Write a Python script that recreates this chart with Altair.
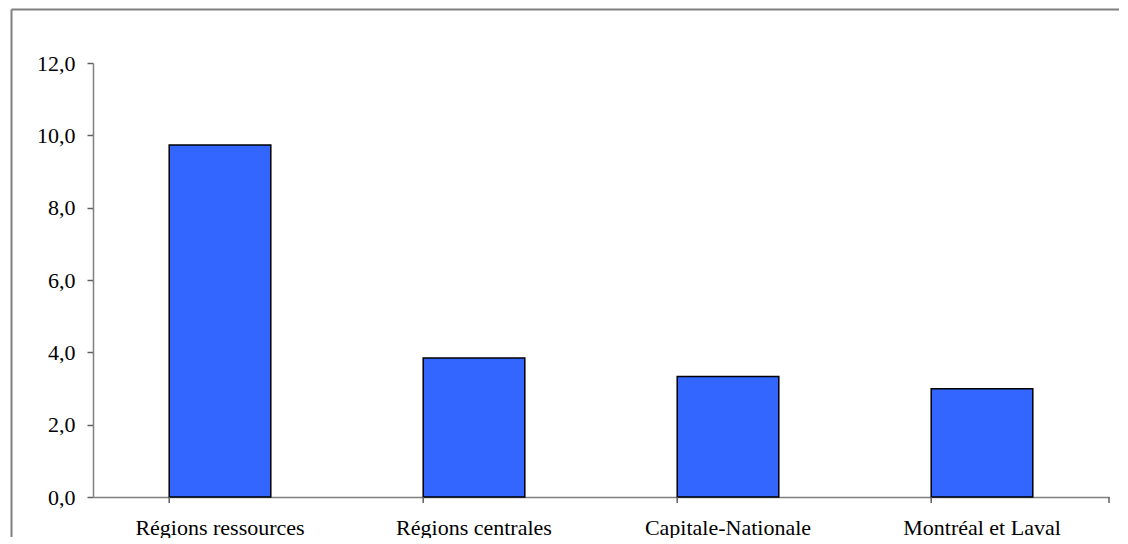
import altair as alt
import pandas as pd

categories = ["Régions ressources", "Régions centrales", "Capitale-Nationale", "Montréal et Laval"]
values = [9.73, 3.84, 3.33, 2.99]
y_ticks = [0, 2, 4, 6, 8, 10, 12]

df = pd.DataFrame({"cat": categories, "val": values})

W = 1016
H = 434
FONT = "Liberation Serif"

x_enc = alt.X("cat:N", sort=categories, title=None,
              scale=alt.Scale(paddingInner=0.6, paddingOuter=0.3),
              axis=alt.Axis(labelAngle=0, labelFont=FONT, labelFontSize=22,
                            labelColor="black", ticks=False, domain=True,
                            domainColor="#808080", domainWidth=1.5,
                            labelPadding=20, labelLimit=400))

bars = alt.Chart(df).mark_bar(color="#3366FF", stroke="black", strokeWidth=1.5).encode(
    x=x_enc,
    y=alt.Y("val:Q", title=None,
            scale=alt.Scale(domain=[0, 12], nice=False, zero=True),
            axis=alt.Axis(values=y_ticks, grid=False, labelFont=FONT, labelFontSize=22,
                          labelColor="black",
                          labelExpr="replace(format(datum.value, '.1f'), '.', ',')",
                          domainColor="#808080", domainWidth=1.5, tickColor="#606060",
                          tickSize=6, tickWidth=1.5, labelPadding=12)),
)

ticks = alt.Chart(df).mark_rule(color="#606060", strokeWidth=1.5).encode(
    x=alt.X("cat:N", sort=categories, bandPosition=0),
    y=alt.value(H),
    y2=alt.value(H + 6),
)

end_tick = alt.Chart(df.head(1)).mark_rule(color="#606060", strokeWidth=1.5).encode(
    x=alt.value(W), y=alt.value(H), y2=alt.value(H + 6)
)

frame_left = alt.Chart(df.head(1)).mark_rule(color="#808080", strokeWidth=2).encode(
    x=alt.value(-81.5), y=alt.value(-53.5), y2=alt.value(H + 40)
)
frame_top = alt.Chart(df.head(1)).mark_rule(color="#808080", strokeWidth=2).encode(
    x=alt.value(-81.5), x2=alt.value(W + 10), y=alt.value(-53.5)
)

chart = alt.layer(bars, ticks, end_tick, frame_left, frame_top).properties(
    width=W, height=H, background="white",
    padding={"left": 2, "top": 0, "right": 0, "bottom": 0},
).configure(font=FONT).configure_view(stroke=None)

chart.save("out.html", embed_options={"renderer": "svg", "actions": False})
